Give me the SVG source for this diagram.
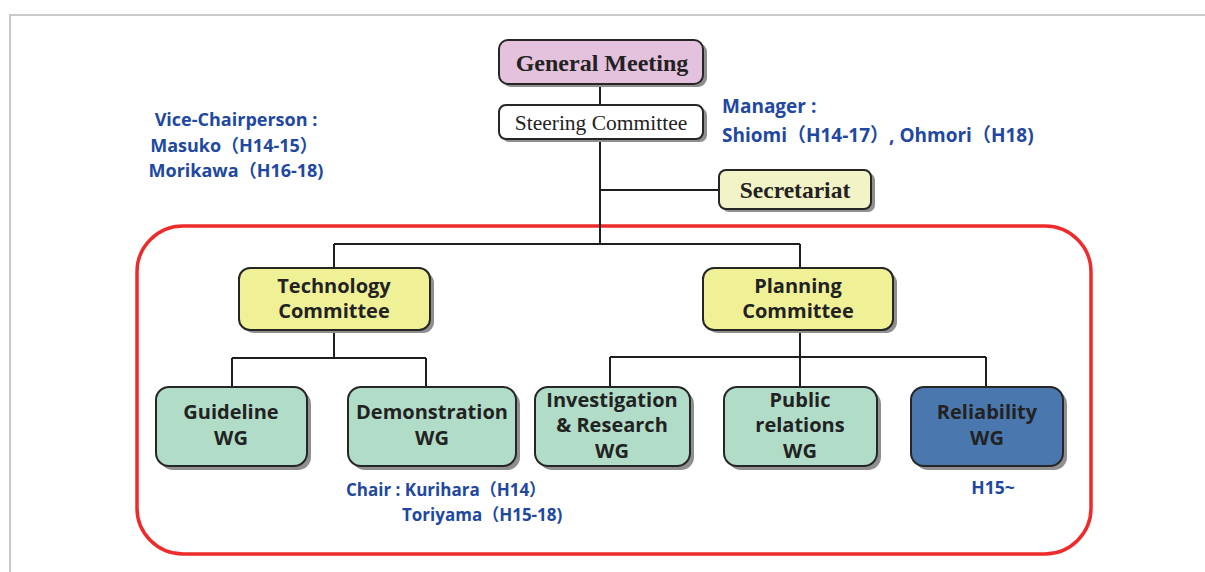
<svg xmlns="http://www.w3.org/2000/svg" width="1205" height="572" viewBox="0 0 1205 572">
  <style>
    .frame { fill: none; stroke: #c9c9c9; stroke-width: 2; }
    .group-border { fill: none; stroke: #ee2b2b; stroke-width: 3.5; }
    .link { fill: none; stroke: #1e1e1e; stroke-width: 2; }
    .shadow { fill: #8f8f8f; }
    .box { stroke: #262626; stroke-width: 2; }
    .gm { fill: #e4c1dc; }
    .sc { fill: #ffffff; }
    .sec { fill: #f3f3c8; }
    .cmt { fill: #f0f097; }
    .wg { fill: #b0dcc8; }
    .rel { fill: #4a78ae; }
    .serif-b { font-family: "Liberation Serif", "Times New Roman", serif; font-weight: bold; fill: #222; text-anchor: middle; }
    .serif { font-family: "Liberation Serif", "Times New Roman", serif; fill: #222; text-anchor: middle; }
    .label { font-family: "Open Sans", "Liberation Sans", sans-serif; font-weight: bold; font-size: 20px; fill: #222; text-anchor: middle; }
    .note { font-family: "Open Sans", "Liberation Sans", "Noto Sans CJK JP", sans-serif; font-weight: bold; fill: #2148a0; }
  </style>

  <!-- page frame -->
  <path class="frame" d="M10,572 V15 H1205"/>

  <!-- boundary around committees and working groups -->
  <rect class="group-border" x="137" y="226" width="954" height="328" rx="46" ry="46"/>

  <!-- connectors -->
  <g id="connectors">
    <path class="link" d="M600,84 V105"/>
    <path class="link" d="M600,139 V244"/>
    <path class="link" d="M600,190 H719"/>
    <path class="link" d="M334,244 H800"/>
    <path class="link" d="M334,244 V268"/>
    <path class="link" d="M800,244 V268"/>
    <path class="link" d="M334,330 V358 M232,358 H426 M232,358 V387 M426,358 V387"/>
    <path class="link" d="M800,330 V357 M610,357 H986 M610,357 V387 M800,357 V387 M986,357 V387"/>
  </g>

  <g id="general-meeting">
    <rect class="shadow" x="502" y="43" width="205" height="44" rx="9"/>
    <rect class="box gm" x="499" y="40" width="204" height="44" rx="9"/>
    <text class="serif-b" x="602" y="71" font-size="24">General Meeting</text>
  </g>

  <g id="steering-committee">
    <rect class="shadow" x="502" y="108" width="205" height="34" rx="7"/>
    <rect class="box sc" x="499" y="105" width="204" height="34" rx="7"/>
    <text class="serif" x="601" y="130" font-size="21.5">Steering Committee</text>
  </g>

  <g id="secretariat">
    <rect class="shadow" x="722" y="173" width="153" height="39" rx="7"/>
    <rect class="box sec" x="719" y="170" width="152" height="39" rx="7"/>
    <text class="serif-b" x="795" y="198" font-size="23.5">Secretariat</text>
  </g>

  <g id="technology-committee">
    <rect class="shadow" x="243" y="272" width="191" height="61" rx="11"/>
    <rect class="box cmt" x="239" y="268" width="191" height="62" rx="11"/>
    <text class="label" x="334" y="293">Technology</text>
    <text class="label" x="334" y="318">Committee</text>
  </g>

  <g id="planning-committee">
    <rect class="shadow" x="707" y="272" width="190" height="61" rx="11"/>
    <rect class="box cmt" x="703" y="268" width="190" height="62" rx="11"/>
    <text class="label" x="798" y="293">Planning</text>
    <text class="label" x="798" y="318">Committee</text>
  </g>

  <g id="guideline-wg">
    <rect class="shadow" x="160" y="391" width="151" height="79" rx="13"/>
    <rect class="box wg" x="156" y="387" width="151" height="79" rx="13"/>
    <text class="label" x="231" y="419">Guideline</text>
    <text class="label" x="231" y="445">WG</text>
  </g>

  <g id="demonstration-wg">
    <rect class="shadow" x="352" y="391" width="168" height="79" rx="13"/>
    <rect class="box wg" x="348" y="387" width="168" height="79" rx="13"/>
    <text class="label" x="432" y="419">Demonstration</text>
    <text class="label" x="432" y="445">WG</text>
  </g>

  <g id="investigation-wg">
    <rect class="shadow" x="539" y="391" width="155" height="79" rx="13"/>
    <rect class="box wg" x="535" y="387" width="155" height="79" rx="13"/>
    <text class="label" x="612" y="407">Investigation</text>
    <text class="label" x="612" y="432">&amp; Research</text>
    <text class="label" x="612" y="458">WG</text>
  </g>

  <g id="public-relations-wg">
    <rect class="shadow" x="728" y="391" width="153" height="79" rx="13"/>
    <rect class="box wg" x="724" y="387" width="153" height="79" rx="13"/>
    <text class="label" x="800" y="407">Public</text>
    <text class="label" x="800" y="432">relations</text>
    <text class="label" x="800" y="458">WG</text>
  </g>

  <g id="reliability-wg">
    <rect class="shadow" x="915" y="391" width="152" height="79" rx="13"/>
    <rect class="box rel" x="911" y="387" width="152" height="79" rx="13"/>
    <text class="label" x="987" y="419">Reliability</text>
    <text class="label" x="987" y="445">WG</text>
  </g>

  <!-- officer notes -->
  <g id="notes">
    <text class="note" font-size="18" text-anchor="middle" x="236" y="126">Vice-Chairperson :</text>
    <text class="note" font-size="18" text-anchor="middle" x="234" y="152">Masuko（H14-15）</text>
    <text class="note" font-size="18" text-anchor="middle" x="236" y="177">Morikawa（H16-18)</text>

    <text class="note" font-size="19" x="722" y="113">Manager :</text>
    <text class="note" font-size="19" x="722" y="142">Shiomi（H14-17）, Ohmori（H18)</text>

    <text class="note" font-size="17" x="346" y="496">Chair : Kurihara（H14）</text>
    <text class="note" font-size="17" x="402" y="521">Toriyama（H15-18)</text>

    <text class="note" font-size="17.5" text-anchor="middle" x="993" y="494">H15~</text>
  </g>
</svg>
